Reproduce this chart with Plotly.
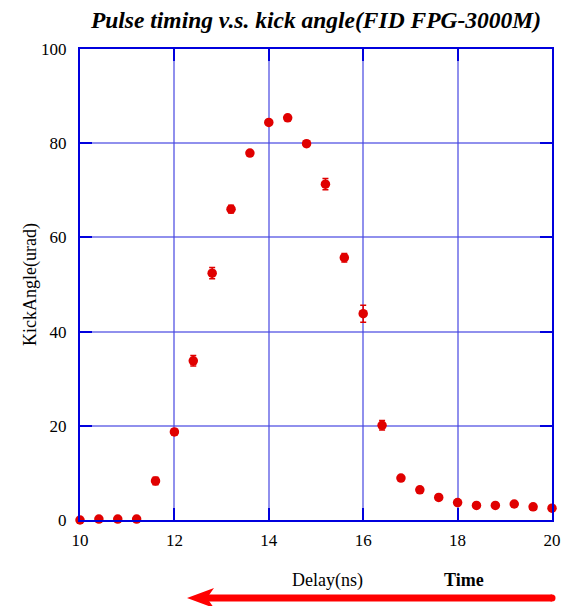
import plotly.graph_objects as go

delay_ns = [10.0, 10.4, 10.8, 11.2, 11.6, 12.0, 12.4, 12.8, 13.2, 13.6, 14.0, 14.4, 14.8,
            15.2, 15.6, 16.0, 16.4, 16.8, 17.2, 17.6, 18.0, 18.4, 18.8, 19.2, 19.6, 20.0]
kick_urad = [0.0, 0.2, 0.2, 0.2, 8.3, 18.7, 33.8, 52.4, 66.0, 77.9, 84.4, 85.4, 79.9,
             71.3, 55.7, 43.8, 20.1, 8.9, 6.4, 4.8, 3.7, 3.1, 3.1, 3.4, 2.8, 2.5]
kick_err = [0.3, 0.3, 0.3, 0.3, 0.8, 0.6, 1.1, 1.2, 0.8, 0.5, 0.5, 0.5, 0.6,
            1.2, 0.9, 1.8, 1.0, 0.5, 0.5, 0.5, 0.5, 0.4, 0.4, 0.5, 0.4, 0.4]
x_ticks = [10, 12, 14, 16, 18, 20]
y_ticks = [0, 20, 40, 60, 80, 100]

SERIF = "Liberation Serif, Times New Roman, serif"
BLUE = "#0000dd"
GRID = "rgba(70,70,225,0.6)"
RED = "#e00000"

# plot-area geometry (pixels) used to place the decorations below the axis
L, T, W, H = 80, 49, 472, 471


def px(xp):
    return (xp - L) / W


def py(yp):
    return (T + H - yp) / H


fig = go.Figure()
fig.add_trace(go.Scatter(
    x=delay_ns, y=kick_urad, mode="markers",
    marker=dict(color=RED, size=9.5, line=dict(width=0)),
    error_y=dict(type="data", array=kick_err, visible=True, color=RED, thickness=1.5, width=3),
    cliponaxis=False, showlegend=False,
))

axis_common = dict(
    showline=True, linecolor=BLUE, linewidth=2, mirror="allticks",
    ticks="inside", ticklen=12, tickwidth=2, tickcolor=BLUE,
    showgrid=True, gridcolor=GRID, gridwidth=1.5,
    zeroline=False, automargin=False,
    tickfont=dict(family=SERIF, size=17, color="black"),
)

fig.update_xaxes(range=[10, 20], tickvals=x_ticks, ticklabelstandoff=4, **axis_common)
fig.update_yaxes(range=[0, 100], tickvals=y_ticks, ticklabelstandoff=8,
                 title=dict(text="KickAngle(urad)", font=dict(family=SERIF, size=18, color="black"),
                            standoff=0),
                 **axis_common)

arrow_head = (f"M {px(187)},{py(598)} L {px(214)},{py(588)} L {px(207)},{py(598)} "
              f"L {px(214)},{py(608)} Z")

fig.update_layout(
    width=564, height=606, autosize=False,
    margin=dict(l=L, r=564 - L - W, t=T, b=606 - T - H, pad=0),
    paper_bgcolor="white", plot_bgcolor="white",
    title=dict(text="Pulse timing v.s. kick angle(FID FPG-3000M)",
               font=dict(family=SERIF, size=23.5, color="black", weight="bold", style="italic"),
               x=0.5, xref="paper", xanchor="center", y=1 - 20 / 606, yanchor="middle"),
    annotations=[
        dict(text="Delay(ns)", xref="paper", yref="paper", x=px(327), y=py(580),
             showarrow=False, xanchor="center", yanchor="middle",
             font=dict(family=SERIF, size=18, color="black")),
        dict(text="Time", xref="paper", yref="paper", x=px(464), y=py(580),
             showarrow=False, xanchor="center", yanchor="middle",
             font=dict(family=SERIF, size=18, color="black", weight="bold")),
    ],
    shapes=[
        dict(type="line", xref="paper", yref="paper", x0=px(205), y0=py(598), x1=px(552), y1=py(598),
             line=dict(color="#ff0000", width=7)),
        dict(type="circle", xref="paper", yref="paper",
             x0=px(548.5), x1=px(555.5), y0=py(594.5), y1=py(601.5),
             fillcolor="#ff0000", line=dict(width=0)),
        dict(type="path", xref="paper", yref="paper", path=arrow_head,
             fillcolor="#ff0000", line=dict(width=0)),
    ],
)

fig.write_html("out.html")
